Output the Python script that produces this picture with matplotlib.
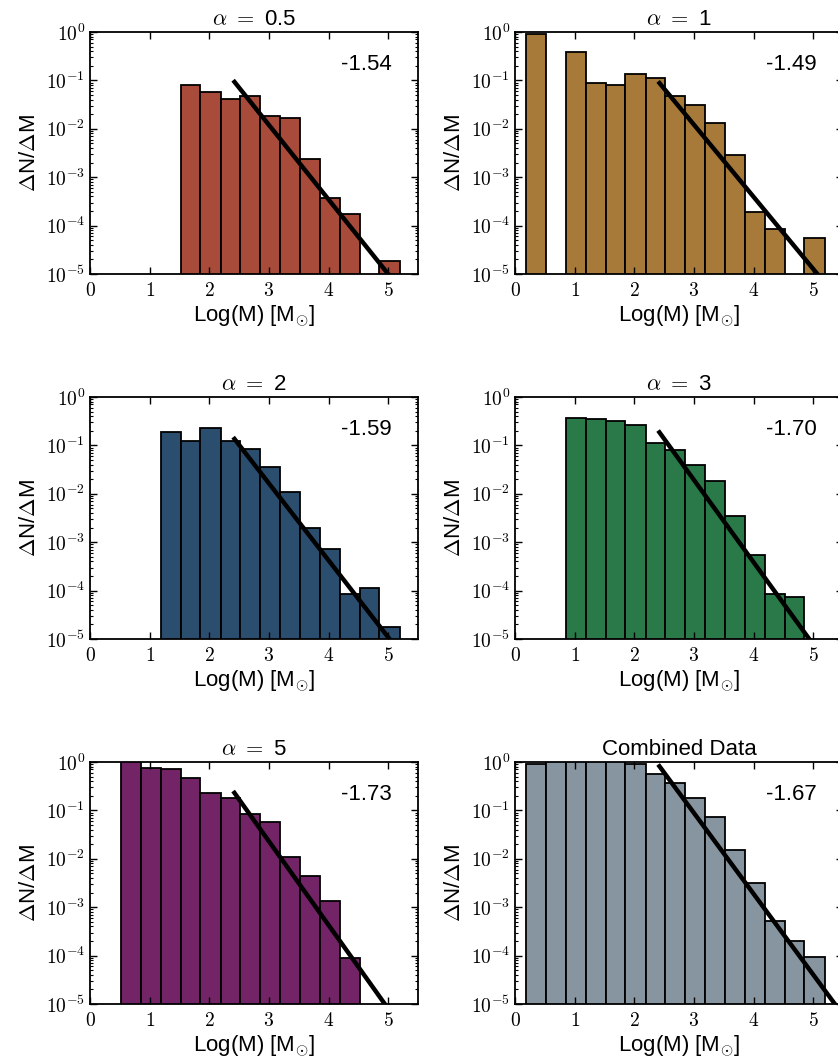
import numpy as np
import matplotlib
matplotlib.use("Agg")
import matplotlib.pyplot as plt
from matplotlib.ticker import FixedLocator, FuncFormatter, LogLocator, NullFormatter

plt.rcParams['font.family'] = ['Liberation Sans', 'DejaVu Sans']
plt.rcParams['mathtext.fontset'] = 'cm'

# log10(M) bin edges shared by every panel
bin_edges = [0.19, 0.52, 0.85, 1.19, 1.52, 1.85, 2.19, 2.52, 2.85,
             3.19, 3.52, 3.85, 4.19, 4.52, 4.85, 5.19]

titles = [r'$\alpha\ =\ $0.5', r'$\alpha\ =\ $1', r'$\alpha\ =\ $2',
          r'$\alpha\ =\ $3', r'$\alpha\ =\ $5', 'Combined Data']

# dN/dM per bin (0 = empty bin)
h_a05 = [0, 0, 0, 0, 0.080, 0.057, 0.042, 0.048, 0.0187, 0.017,
         0.00238, 3.7e-4, 1.74e-4, 0, 1.83e-5]
h_a1 = [0.91, 0, 0.38, 0.088, 0.079, 0.133, 0.112, 0.047, 0.0315, 0.0132,
        0.00283, 1.88e-4, 8.65e-5, 0, 5.5e-5]
h_a2 = [0, 0, 0, 0.185, 0.126, 0.231, 0.124, 0.086, 0.0359, 0.0107,
        0.00198, 7.4e-4, 8.6e-5, 1.15e-4, 1.8e-5]
h_a3 = [0, 0, 0.373, 0.356, 0.314, 0.264, 0.112, 0.079, 0.0386, 0.0183,
        0.0035, 5.47e-4, 8.5e-5, 7.5e-5, 0]
h_a5 = [0, 1.05, 0.76, 0.717, 0.459, 0.232, 0.18, 0.085, 0.057, 0.0107,
        0.00445, 0.00133, 8.8e-5, 0, 0]
h_all = [0.92, 1.05, 1.05, 1.05, 1.05, 0.92, 0.574, 0.368, 0.18, 0.0716,
         0.0151, 0.00314, 5.3e-4, 1.98e-4, 9.2e-5]
heights = [h_a05, h_a1, h_a2, h_a3, h_a5, h_all]

# power-law fits: log10(dN/dM) = intercept + slope * log10(M)
fit_slopes = [-1.54, -1.49, -1.59, -1.70, -1.73, -1.67]
fit_intercepts = [2.70, 2.555, 2.986, 3.387, 3.552, 3.957]
fit_start = 2.4

colors = ['#A84B3A', '#A87A3A', '#2C4E6E', '#2A7948', '#722466', '#8795A0']

W, H = 838, 1060
col_left = [90, 515]
row_top = [32, 397, 762]
ax_w, ax_h = 328, 242

fig = plt.figure(figsize=(W / 100, H / 100), dpi=100)

edges = np.array(bin_edges)
centers = 0.5 * (edges[:-1] + edges[1:])

for i in range(6):
    r, c = divmod(i, 2)
    left = col_left[c] / W
    bottom = 1 - (row_top[r] + ax_h) / H
    ax = fig.add_axes([left, bottom, ax_w / W, ax_h / H])

    ax.hist(centers, bins=edges, weights=heights[i], log=True,
            color=colors[i], edgecolor='black', linewidth=1.3)

    xs = np.array([fit_start, 5.6])
    ax.plot(xs, 10 ** (fit_intercepts[i] + fit_slopes[i] * xs),
            color='black', lw=3.2, solid_capstyle='butt')

    ax.set_xlim(0, 5.5)
    ax.set_ylim(1e-5, 1)
    ax.yaxis.set_major_locator(FixedLocator([1e-5, 1e-4, 1e-3, 1e-2, 1e-1, 1]))
    ax.yaxis.set_minor_locator(LogLocator(base=10, subs=np.arange(2, 10)))
    ax.yaxis.set_minor_formatter(NullFormatter())
    ax.yaxis.set_major_formatter(
        FuncFormatter(lambda v, p: r'$10^{%d}$' % int(round(np.log10(v)))))
    ax.xaxis.set_major_locator(FixedLocator([0, 1, 2, 3, 4, 5]))
    ax.xaxis.set_major_formatter(FuncFormatter(lambda v, p: r'$%d$' % v))

    ax.tick_params(which='both', direction='in', top=True, right=True,
                   labelsize=14)
    ax.tick_params(which='major', length=5, width=1)
    ax.tick_params(which='minor', length=2.5, width=0.8)
    ax.tick_params(axis='x', pad=6)
    for s in ax.spines.values():
        s.set_linewidth(1.3)

    ax.set_title(titles[i], fontsize=16, pad=5)
    ax.set_xlabel(r'Log(M) [M$_{\odot}$]', fontsize=16, labelpad=2)
    ax.set_ylabel(r'$\Delta$N/$\Delta$M', fontsize=16, labelpad=4)
    ax.text(0.92, 0.865, '%.2f' % fit_slopes[i], transform=ax.transAxes,
            ha='right', va='center', fontsize=16)

fig.savefig('out.png', dpi=100)
